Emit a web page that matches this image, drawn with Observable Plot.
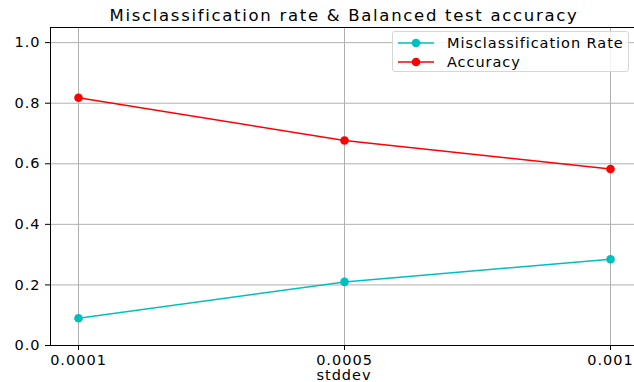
<!DOCTYPE html>
<html><head><meta charset="utf-8">
<script src="https://cdn.jsdelivr.net/npm/d3@7"></script>
<script src="https://cdn.jsdelivr.net/npm/@observablehq/plot@0.6"></script>
<style>
body{margin:0;background:#fff;font-family:"DejaVu Sans",sans-serif;}
#wrap{position:relative;width:634px;height:382px;overflow:hidden;}
#wrap svg text{letter-spacing:1px;}
#wrap svg g.title text{letter-spacing:1.7px;}
#legend{position:absolute;left:392px;top:31px;width:237px;height:41px;border:1px solid #d6d6d6;border-radius:3px;background:rgba(255,255,255,0.85);font-size:14.5px;letter-spacing:0.95px;box-sizing:border-box;}
#legend .row{position:absolute;left:0;height:18px;display:flex;align-items:center;}
#legend svg{margin-left:4px;}
#legend span{margin-left:12px;color:#000;white-space:nowrap;}
</style></head><body><div id="wrap"></div>
<script>
const stddev = ["0.0001", "0.0005", "0.001"];
const misclassificationRate = [0.09, 0.21, 0.285];
const accuracy = [0.818, 0.677, 0.583];
const yTicks = [0, 0.2, 0.4, 0.6, 0.8, 1.0];
const seriesNames = ["Misclassification Rate", "Accuracy"];
const seriesColors = ["#00bfbf", "#ff0000"];
const titleText = "Misclassification rate & Balanced test accuracy";
const xLabel = "stddev";

const data = [
  ...stddev.map((s, i) => ({x: s, y: misclassificationRate[i], series: seriesNames[0]})),
  ...stddev.map((s, i) => ({x: s, y: accuracy[i], series: seriesNames[1]}))
];

const chart = Plot.plot({
  width: 634, height: 382,
  marginLeft: 50, marginRight: -3, marginTop: 27, marginBottom: 37,
  style: {fontFamily: "DejaVu Sans", fontSize: "14.5px", color: "#000", background: "#fff"},
  x: {type: "point", domain: stddev, padding: 0.1, label: null},
  y: {domain: [0, 1.05], label: null},
  color: {domain: seriesNames, range: seriesColors},
  marks: [
    Plot.gridX(stddev, {stroke: "#b0b0b0", strokeOpacity: 1, strokeWidth: 1}),
    Plot.gridY(yTicks, {stroke: "#b0b0b0", strokeOpacity: 1, strokeWidth: 1}),
    Plot.frame({stroke: "#000", strokeWidth: 1}),
    Plot.axisX(stddev, {tickSize: 5, tickPadding: 4, label: null, fontSize: 14.5}),
    Plot.axisY(yTicks, {tickSize: 5, tickPadding: 5, tickFormat: ".1f", label: null, fontSize: 14.5}),
    Plot.line(data, {x: "x", y: "y", z: "series", stroke: "series", strokeWidth: 1.5}),
    Plot.dot(data, {x: "x", y: "y", fill: "series", r: 4.3}),
    Plot.text([titleText], {text: d => d, frameAnchor: "top", lineAnchor: "middle", dy: -12, fontSize: 16.5, className: "title"}),
    Plot.text([xLabel], {text: d => d, frameAnchor: "bottom", lineAnchor: "middle", dy: 30, fontSize: 14.5})
  ]
});
const wrap = document.getElementById("wrap");
wrap.appendChild(chart);

const legend = document.createElement("div");
legend.id = "legend";
seriesNames.forEach((name, i) => {
  const row = document.createElement("div");
  row.className = "row";
  row.style.top = (2 + i * 19) + "px";
  row.innerHTML = `<svg width="38" height="18"><line x1="1" x2="37" y1="9" y2="9" stroke="${seriesColors[i]}" stroke-width="1.5"/><circle cx="19" cy="9" r="4.3" fill="${seriesColors[i]}"/></svg><span>${name}</span>`;
  legend.appendChild(row);
});
wrap.appendChild(legend);
</script></body></html>
